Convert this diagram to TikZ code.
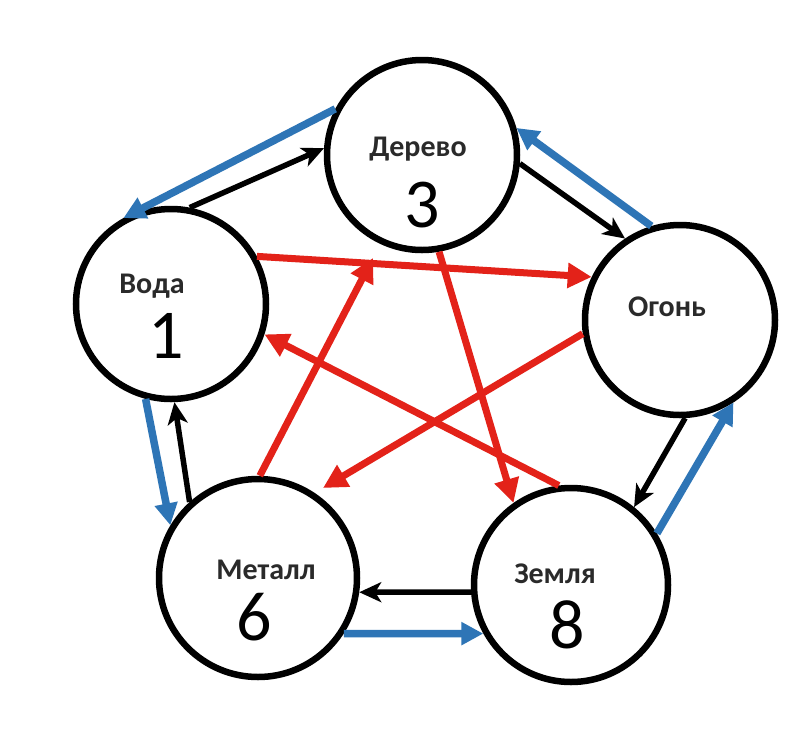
\documentclass[tikz,border=0pt]{standalone}
\usepackage{fontspec}
\newfontfamily\lblfont{Carlito}
\usetikzlibrary{arrows.meta}
\definecolor{arblue}{HTML}{2E75B6}
\definecolor{arred}{HTML}{E32219}
\definecolor{lblgray}{HTML}{2A2A2A}
\begin{document}
\begin{tikzpicture}[x=1pt,y=-1pt,
  elem/.style={circle, draw=black, line width=6.5pt, minimum size=#1, inner sep=0pt, fill=white},
  lbl/.style={font=\lblfont\bfseries\fontsize{30}{30}\selectfont, text=lblgray, anchor=base, inner sep=0pt},
  num/.style={font=\lblfont\fontsize{70}{70}\selectfont, anchor=base, inner sep=0pt},
  blk/.style={draw=black, line width=5.5pt, -{Stealth[length=22pt,width=20pt,inset=6pt]}},
  blu/.style={draw=arblue, line width=7.5pt, -{Triangle[length=22pt,width=22pt]}},
  rd/.style={draw=arred, line width=7pt, -{Triangle[length=24pt,width=24pt]}}]
\useasboundingbox (0,0) rectangle (785,732);
\fill[white] (0,0) rectangle (785,732);
% elements
\node[elem=190pt] (derevo) at (422,155) {};
\node[elem=190pt] (voda) at (171,304) {};
\node[elem=190pt] (ogon) at (680,320) {};
\node[elem=198pt] (metall) at (258,578) {};
\node[elem=194pt] (zemlya) at (571,585) {};
% free ends
\coordinate (r2tip) at (323,488);
\coordinate (r3tip) at (373,258);
% black cycle
\draw[blk] (voda.79) -- (derevo.176);
\draw[blk] (derevo.-5) -- (ogon.124);
\draw[blk] (ogon.-87) -- (zemlya.51);
\draw[blk] (zemlya.184) -- (metall.-8);
\draw[blk] (metall.132) -- (voda.-88);
% blue cycle
\draw[blu] (derevo.152) -- (voda.119);
\draw[blu] (ogon.107) -- (derevo.16);
\draw[blu] (zemlya.31) -- (ogon.-57);
\draw[blu] (metall.-33) -- (zemlya.209);
\draw[blu] (voda.-105) -- (metall.149);
% red star
\draw[rd] (voda.29) -- (ogon.154);
\draw[rd] (ogon.188) -- (r2tip);
\draw[rd] (metall.89) -- (r3tip);
\draw[rd] (derevo.-80) -- (zemlya.125);
\draw[rd] (zemlya.97) -- (voda.-18);
% labels
\node[lbl] (tderevo) at (418,156) {Дерево};
\node[lbl] (tvoda) at (152,293) {Вода};
\node[lbl] (togon) at (667,316) {Огонь};
\node[lbl] (tmetall) at (266,579) {Металл};
\node[lbl] (tzemlya) at (555,583) {Земля};
\node[num] (n3) at (422,227) {3};
\node[num] (n1) at (166,358) {1};
\node[num] (n6) at (254,640) {6};
\node[num] (n8) at (567,648) {8};
\end{tikzpicture}
\end{document}
